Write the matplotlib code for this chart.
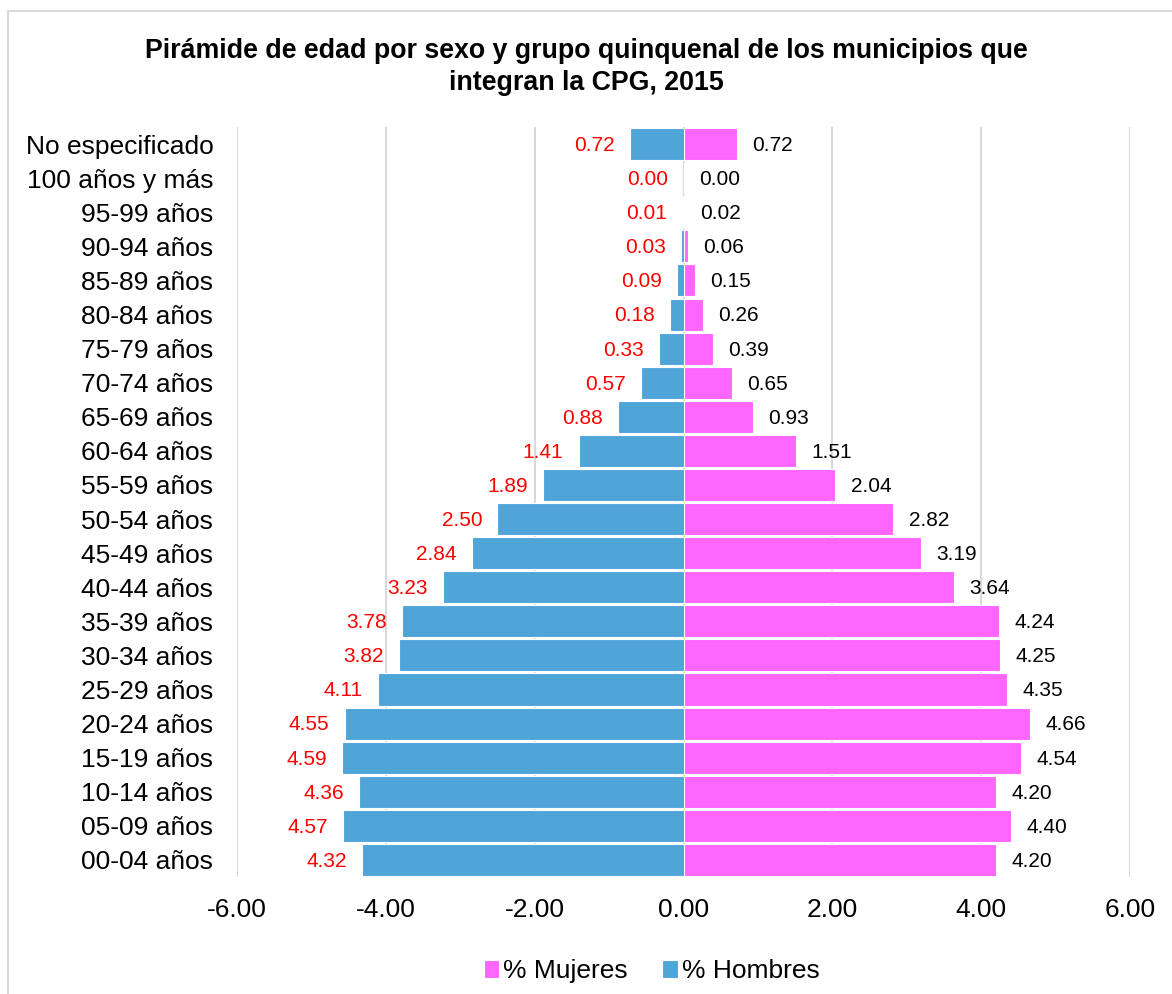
import matplotlib.pyplot as plt
from matplotlib.patches import Rectangle

plt.rcParams['font.family'] = ['Liberation Sans', 'DejaVu Sans']

grupos = ['00-04 años', '05-09 años', '10-14 años', '15-19 años', '20-24 años',
          '25-29 años', '30-34 años', '35-39 años', '40-44 años', '45-49 años',
          '50-54 años', '55-59 años', '60-64 años', '65-69 años', '70-74 años',
          '75-79 años', '80-84 años', '85-89 años', '90-94 años', '95-99 años',
          '100 años y más', 'No especificado']
hombres = [4.32, 4.57, 4.36, 4.59, 4.55, 4.11, 3.82, 3.78, 3.23, 2.84, 2.50,
           1.89, 1.41, 0.88, 0.57, 0.33, 0.18, 0.09, 0.03, 0.01, 0.00, 0.72]
mujeres = [4.20, 4.40, 4.20, 4.54, 4.66, 4.35, 4.25, 4.24, 3.64, 3.19, 2.82,
           2.04, 1.51, 0.93, 0.65, 0.39, 0.26, 0.15, 0.06, 0.02, 0.00, 0.72]
xticks = [-6, -4, -2, 0, 2, 4, 6]

c_muj = '#ff66ff'
c_hom = '#4fa5d8'

fig = plt.figure(figsize=(11.72, 9.94), dpi=100)
fig.patches.append(Rectangle((0.007, -0.01), 1.1, 0.999, transform=fig.transFigure,
                             fill=False, edgecolor='#d9d9d9', linewidth=1.5))
ax = fig.add_axes([0.2022, 0.1177, 0.762, 0.7545])

y = range(len(grupos))
bm = ax.barh(y, mujeres, height=0.94, color=c_muj, edgecolor='white', linewidth=0.8,
             label='% Mujeres', zorder=2)
bh = ax.barh(y, [-v for v in hombres], height=0.94, color=c_hom, edgecolor='white',
             linewidth=0.8, label='% Hombres', zorder=2)

# etiquetas de datos: hombres en rojo a la izquierda, mujeres en negro a la derecha
for i in y:
    ax.annotate(f'{hombres[i]:.2f}', (-hombres[i], i), xytext=(-11, -1),
                textcoords='offset points', ha='right', va='center',
                color='red', fontsize=15)
    ax.annotate(f'{mujeres[i]:.2f}', (mujeres[i], i), xytext=(11, -1),
                textcoords='offset points', ha='left', va='center',
                color='black', fontsize=15)

ax.set_xlim(-6, 6)
ax.set_ylim(-0.5, len(grupos) - 0.5)
ax.set_xticks(xticks)
ax.set_xticklabels([f'{v:.2f}' for v in xticks], fontsize=19)
ax.set_yticks(list(y))
ax.set_yticklabels(grupos, fontsize=19)
ax.tick_params(length=0)
ax.tick_params(axis='y', pad=17)
ax.tick_params(axis='x', pad=15)
ax.grid(axis='x', color='#d9d9d9', linewidth=1.5, zorder=0)
ax.set_axisbelow(True)
for s in ax.spines.values():
    s.set_visible(False)

fig.text(0.5, 0.933, 'Pirámide de edad por sexo y grupo quinquenal de los municipios que\nintegran la CPG, 2015',
         ha='center', va='center', fontsize=19.3, fontweight='bold', linespacing=1.3)

fig.legend(handles=[bm, bh], loc='center', bbox_to_anchor=(0.556, 0.023), ncol=2,
           frameon=False, fontsize=19, handlelength=0.6, handleheight=0.7,
           handletextpad=0.15, columnspacing=1.3)

fig.savefig('out.png', dpi=100)
